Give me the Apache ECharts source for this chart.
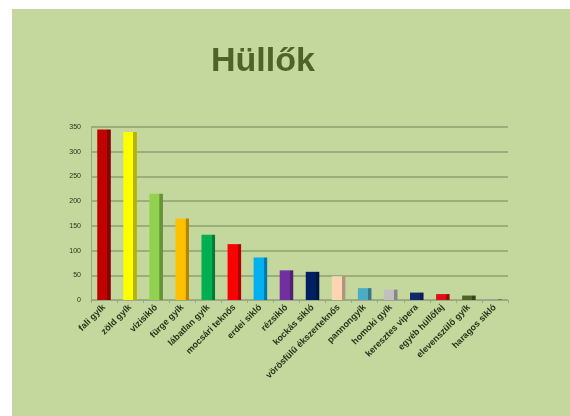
<!DOCTYPE html>
<html>
<head>
<meta charset="utf-8">
<script src="https://cdn.jsdelivr.net/npm/echarts@6/dist/echarts.min.js"></script>
<style>
html,body{margin:0;padding:0;background:#fff;}
#c{width:570px;height:416px;}
</style>
</head>
<body>
<div id="c"></div>
<script>
var title = "Hüllők";
var categories = ["fali gyík","zöld gyík","vízisikló","fürge gyík","lábatlan gyík","mocsári teknős","erdei sikló","rézsikló","kockás sikló","vörösfülű ékszerteknős","pannongyík","homoki gyík","keresztes vipera","egyéb hüllőfaj","elevenszülő gyík","haragos sikló"];
var values = [345, 340, 215, 165, 132, 113, 86, 60, 57, 48, 24, 21, 15, 12, 9, 2];
var barColors = ["#c00000","#ffff00","#92d050","#ffc000","#00b050","#ff0000","#00b0f0","#7030a0","#002060","#fcd5b5","#4bacc6","#c0c0c0","#0f2a6a","#e0101a","#4f6228","#9aa88a"];
var yTicks = {min:0, max:350, interval:50};

function shade(hex, f){
  var n = parseInt(hex.slice(1),16);
  var r=(n>>16)&255,g=(n>>8)&255,b=n&255;
  r=Math.round(r*f);g=Math.round(g*f);b=Math.round(b*f);
  return "rgb("+r+","+g+","+b+")";
}

var chart = echarts.init(document.getElementById('c'), null, {renderer:'canvas'});
var data = values.map(function(v,i){
  var c = barColors[i];
  return {value:v, itemStyle:{color:new echarts.graphic.LinearGradient(0,0,1,0,[
    {offset:0,color:c},{offset:0.74,color:c},{offset:0.75,color:shade(c,0.7)},{offset:1,color:shade(c,0.7)}
  ])}};
});
chart.setOption({
  backgroundColor:'#ffffff',
  animation:false,
  graphic:[{type:'rect',z:-10,silent:true,shape:{x:12,y:9,width:558,height:407},style:{fill:'#c4d79c'}}],
  title:{text:title,left:206,top:40,textStyle:{fontFamily:'Liberation Sans',fontWeight:'bold',fontSize:34,color:'#4f6228'}},
  grid:{left:91,right:62,top:127,bottom:116,containLabel:false},
  xAxis:{type:'category',data:categories,
    axisLine:{lineStyle:{color:'#9aa88a',width:1}},
    axisTick:{show:true,lineStyle:{color:'#9aa88a'},length:3},
    axisLabel:{rotate:45,interval:0,fontFamily:'Liberation Sans',fontWeight:'bold',fontSize:9,color:'#25331a',margin:6}},
  yAxis:{type:'value',min:yTicks.min,max:yTicks.max,interval:yTicks.interval,
    axisLine:{show:true,lineStyle:{color:'#9aa88a'}},
    axisTick:{show:false},
    splitLine:{lineStyle:{color:'#8fa070',width:1.5}},
    axisLabel:{fontFamily:'Liberation Sans',fontSize:7,color:'#25331a',margin:10}},
  series:[{type:'bar',data:data,barWidth:'52%'}]
});
</script>
</body>
</html>
